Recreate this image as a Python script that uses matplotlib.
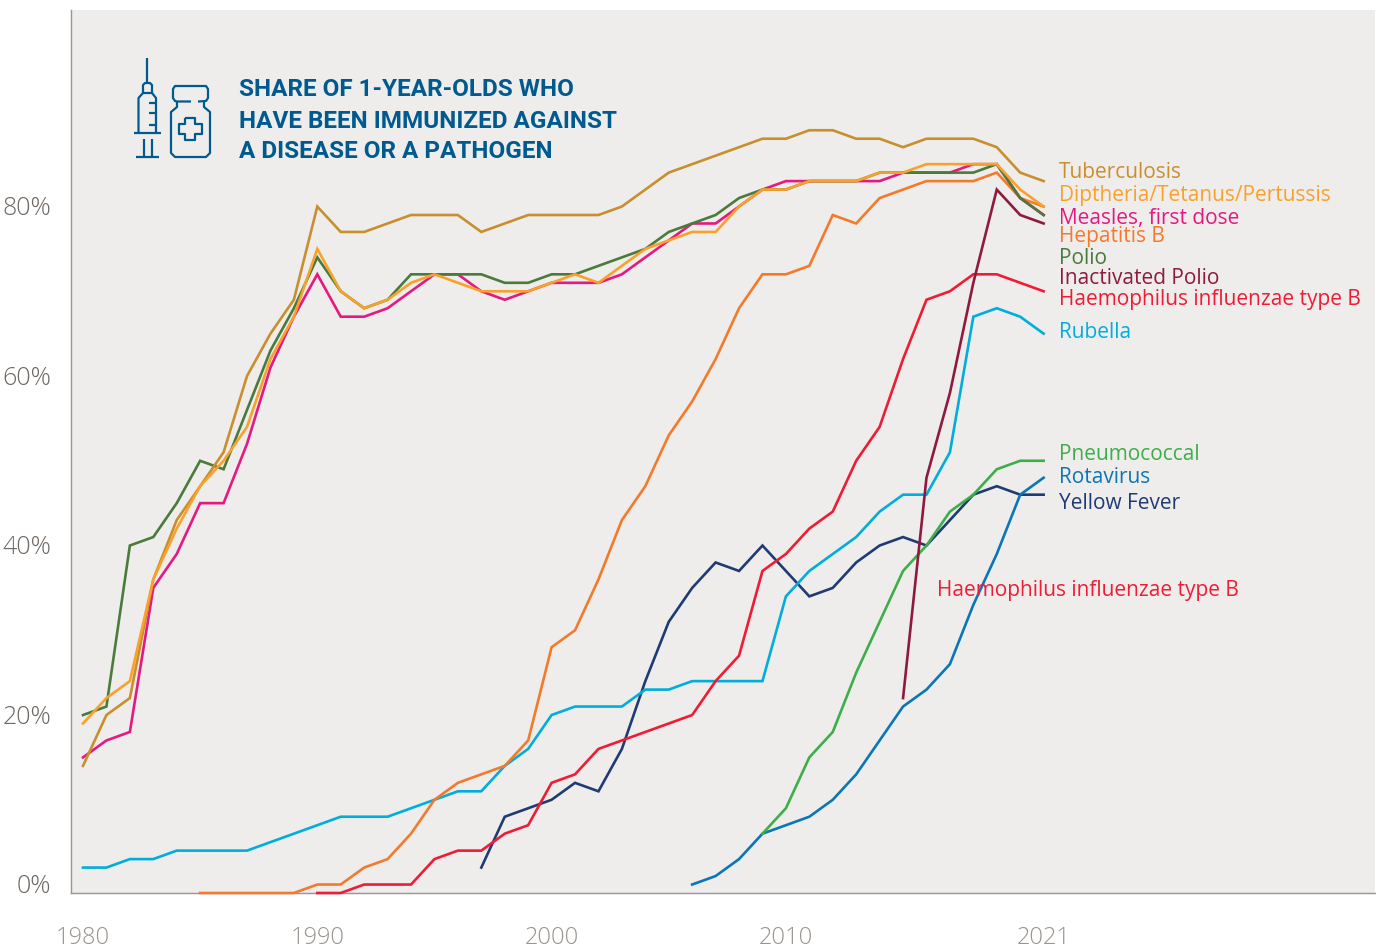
import matplotlib
matplotlib.use("Agg")
import matplotlib.pyplot as plt
from matplotlib.patches import FancyBboxPatch

plt.rcParams['font.family'] = ['Open Sans', 'DejaVu Sans']

yrs = lambda a, n: list(range(a, a + n))

tuberculosis = [15,21,23,37,44,48,52,61,66,70,81,78,78,79,80,80,80,78,79,80,80,80,80,81,83,85,86,87,88,89,89,90,90,89,89,88,89,89,89,88,85,84]
dtp = [20,23,25,37,43,48,51,55,63,68,76,71,69,70,72,73,72,71,71,71,72,73,72,74,76,77,78,78,81,83,83,84,84,84,85,85,86,86,86,86,83,81]
measles = [16,18,19,36,40,46,46,53,62,68,73,68,68,69,71,73,73,71,70,71,72,72,72,73,75,77,79,79,81,83,84,84,84,84,84,85,85,85,86,86,82,80]
hepatitis_b = [0,0,0,0,0,1,1,3,4,7,11,13,14,15,18,29,31,37,44,48,54,58,63,69,73,73,74,80,79,82,83,84,84,84,85,82,81]
polio = [21,22,41,42,46,51,50,57,64,69,75,71,69,70,73,73,73,73,72,72,73,73,74,75,76,78,79,80,82,83,83,84,84,84,85,85,85,85,85,86,82,80]
inactivated_polio = [23,49,59,72,83,80,79]
hib = [0,0,1,1,1,4,5,5,7,8,13,14,17,18,19,20,21,25,28,38,40,43,45,51,55,63,70,71,73,73,72,71]
rubella = [3,3,4,4,5,5,5,5,6,7,8,9,9,9,10,11,12,12,15,17,21,22,22,22,24,24,25,25,25,25,35,38,40,42,45,47,47,52,68,69,68,66]
pneumococcal = [7,10,16,19,26,32,38,41,45,47,50,51,51]
rotavirus = [1,2,4,7,8,9,11,14,18,22,24,27,34,40,47,49]
yellow_fever = [3,9,10,11,13,12,17,25,32,36,39,38,41,38,35,36,39,41,42,41,44,47,48,47,47]

x_ticks = [1980, 1990, 2000, 2010, 2021]
y_ticks = [0, 20, 40, 60, 80]
y_tick_labels = ['0%', '20%', '40%', '60%', '80%']

title_lines = ['SHARE OF 1-YEAR-OLDS WHO', 'HAVE BEEN IMMUNIZED AGAINST', 'A DISEASE OR A PATHOGEN']

C_TB, C_DTP, C_MEA, C_HEP = '#C98F2E', '#F9A12A', '#E5197F', '#F47A2B'
C_POL, C_IPV, C_HIB, C_RUB = '#4A7B3B', '#8E1B3E', '#EE1C35', '#00AEDB'
C_PNE, C_ROT, C_YF = '#3DAE49', '#0B76B7', '#1F3B73'

series = [
    (1997, yellow_fever, C_YF), (2006, rotavirus, C_ROT), (2009, pneumococcal, C_PNE),
    (1980, rubella, C_RUB), (1990, hib, C_HIB), (2015, inactivated_polio, C_IPV),
    (1985, hepatitis_b, C_HEP), (1980, measles, C_MEA), (1980, polio, C_POL),
    (1980, tuberculosis, C_TB), (1980, dtp, C_DTP),
]

labels = [
    ('Tuberculosis', 1059, 173, C_TB), ('Diptheria/Tetanus/Pertussis', 1059, 195, C_DTP),
    ('Measles, first dose', 1059, 218, C_MEA), ('Hepatitis B', 1059, 236, C_HEP),
    ('Polio', 1059, 258, C_POL), ('Inactivated Polio', 1059, 278, C_IPV),
    ('Haemophilus influenzae type B', 1059, 299, C_HIB), ('Rubella', 1059, 332, C_RUB),
    ('Pneumococcal', 1059, 454, C_PNE), ('Rotavirus', 1059, 477, C_ROT),
    ('Yellow Fever', 1059, 503, C_YF), ('Haemophilus influenzae type B', 937, 590, C_HIB),
]

W, H = 1376, 946
fig = plt.figure(figsize=(W / 100, H / 100), dpi=100, facecolor='white')
L, R, T, B = 71, 1375, 10, 893
ax = fig.add_axes([L / W, 1 - B / H, (R - L) / W, (B - T) / H], facecolor='#EEEDEC')
ax.set_xlim(1980 - 12 / 23.43, 1980 + (R - 83) / 23.43)
ax.set_ylim(0, (B - T) / 8.475)

for start, vals, col in series:
    ax.plot(yrs(start, len(vals)), vals, color=col, lw=1.9, solid_joinstyle='miter', clip_on=False, zorder=3)

for s in ('top', 'right'):
    ax.spines[s].set_visible(False)
for s in ('left', 'bottom'):
    ax.spines[s].set_color('#9A9390')
    ax.spines[s].set_linewidth(1)
ax.set_xticks(x_ticks)
ax.set_yticks(y_ticks, y_tick_labels)
ax.tick_params(length=0)
ax.tick_params(axis='x', pad=24, labelsize=17, labelcolor='#9A938F')
ax.tick_params(axis='y', pad=14, labelsize=18, labelcolor='#6E6763')
for t in ax.get_yticklabels():
    t.set_verticalalignment('baseline')
for t in ax.get_xticklabels() + ax.get_yticklabels():
    t.set_fontweight('light')

# pixel-space overlay for annotations and the icon
ov = fig.add_axes([0, 0, 1, 1], facecolor='none')
ov.set_xlim(0, W)
ov.set_ylim(H, 0)
ov.axis('off')

for text, x, y, col in labels:
    ov.text(x, y, text, color=col, fontsize=15, va='center', ha='left')

for i, line in enumerate(title_lines):
    ov.text(239, 90 + 31 * i, line, color='#005A8E', fontsize=17.5, fontweight='bold',
            family=['Roboto', 'DejaVu Sans'], va='center', ha='left')

ic = dict(color='#005A8E', lw=1.6, solid_capstyle='butt')
def pl(xs, ys):
    ov.plot(xs, ys, **ic)
def box(x, y, w, h, r):
    ov.add_patch(FancyBboxPatch((x + r, y + r), w - 2 * r, h - 2 * r, boxstyle=f'round,pad={r}',
                                fc='none', ec='#005A8E', lw=1.6))
# syringe
pl([147, 147], [58, 83])
pl([143, 143, 145, 150, 152, 152], [93, 85, 83, 83, 85, 93])
pl([138.5, 138.5, 143, 152, 156, 156], [133, 98, 93, 93, 98, 133])
for yy in (103, 113, 125):
    pl([149, 156], [yy, yy])
pl([134, 161], [133, 133])
pl([143.5, 143.5], [139, 157])
pl([152, 152], [139, 157])
pl([136, 159], [157, 157])
# vial
pl([191, 177, 175, 173, 173, 175, 206, 208, 208, 206, 198], [101.5, 101.5, 101, 98, 89, 86, 86, 89, 98, 101, 101.5])
pl([177, 177, 171, 171, 175, 206, 210, 210, 204, 204], [102, 107, 112, 153, 157, 157, 153, 112, 107, 102])
pl([185, 195, 195, 202, 202, 195, 195, 185, 185, 179, 179, 185, 185],
   [118, 118, 124, 124, 134, 134, 140, 140, 134, 134, 124, 124, 118])

fig.savefig('out.png', dpi=100)
